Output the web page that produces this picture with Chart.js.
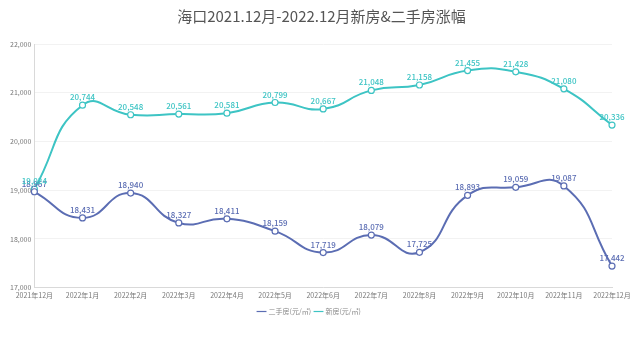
<!DOCTYPE html>
<html>
<head>
<meta charset="utf-8">
<script src="https://cdn.jsdelivr.net/npm/chart.js@4"></script>
<style>
  html, body { margin: 0; padding: 0; background: #ffffff; }
  #wrap { width: 641px; height: 341px; }
</style>
</head>
<body>
<div id="wrap"><canvas id="c" width="641" height="341"></canvas></div>
<script>
// Monthly average prices, Haikou, Dec 2021 – Dec 2022 (元/㎡)
const months = ['2021年12月','2022年1月','2022年2月','2022年3月','2022年4月','2022年5月','2022年6月','2022年7月','2022年8月','2022年9月','2022年10月','2022年11月','2022年12月'];
const secondHand = [18967, 18431, 18940, 18327, 18411, 18159, 17719, 18079, 17725, 18893, 19059, 19087, 17442];
const newHomes   = [19024, 20744, 20548, 20561, 20581, 20799, 20667, 21048, 21158, 21455, 21428, 21080, 20336];
const yTicks = [17000, 18000, 19000, 20000, 21000, 22000];
const titleText = '海口2021.12月-2022.12月新房&二手房涨幅';

const BLUE = '#5b6db3';
const TEAL = '#3dc4c4';
const FONT = '"Noto Sans CJK SC", "Noto Sans", sans-serif';

const fmt = v => v.toLocaleString('en-US');

// Writes each point's value just above its marker
const valueLabels = {
  id: 'valueLabels',
  afterDatasetsDraw(chart) {
    const ctx = chart.ctx;
    ctx.save();
    ctx.font = '500 8px ' + FONT;
    ctx.textAlign = 'center';
    ctx.textBaseline = 'bottom';
    chart.data.datasets.forEach((ds, i) => {
      const meta = chart.getDatasetMeta(i);
      ctx.fillStyle = ds.borderColor;
      meta.data.forEach((pt, j) => {
        ctx.fillText(fmt(ds.data[j]), pt.x, pt.y - 4);
      });
    });
    ctx.restore();
  }
};

// Heading centred across the full canvas width
const centredTitle = {
  id: 'centredTitle',
  afterDraw(chart) {
    const ctx = chart.ctx;
    ctx.save();
    ctx.font = '15px ' + FONT;
    ctx.fillStyle = '#555555';
    ctx.textAlign = 'center';
    ctx.textBaseline = 'middle';
    ctx.fillText(titleText, chart.width / 2 + 1, 16);
    ctx.restore();
  }
};

new Chart(document.getElementById('c'), {
  type: 'line',
  data: {
    labels: months,
    datasets: [
      {
        label: '二手房(元/㎡)',
        data: secondHand,
        borderColor: BLUE,
        backgroundColor: '#ffffff',
        borderWidth: 2,
        tension: 0.5,
        pointRadius: 3,
        pointBorderWidth: 1.2,
        pointBackgroundColor: '#ffffff',
        pointBorderColor: BLUE
      },
      {
        label: '新房(元/㎡)',
        data: newHomes,
        borderColor: TEAL,
        backgroundColor: '#ffffff',
        borderWidth: 2,
        tension: 0.5,
        pointRadius: 3,
        pointBorderWidth: 1.2,
        pointBackgroundColor: '#ffffff',
        pointBorderColor: TEAL
      }
    ]
  },
  options: {
    responsive: false,
    animation: false,
    layout: { padding: { left: 7, right: 29, top: 44, bottom: 16 } },
    plugins: {
      title: { display: false },
      legend: {
        position: 'bottom',
        labels: {
          color: '#888888',
          font: { family: FONT, size: 7 },
          usePointStyle: true,
          pointStyle: 'line',
          boxWidth: 8,
          boxHeight: 8,
          padding: 4
        }
      },
      tooltip: { enabled: false }
    },
    scales: {
      x: {
        grid: { display: false, drawTicks: false },
        border: { color: '#d9d9d9' },
        ticks: {
          color: '#777777',
          font: { family: FONT, size: 7 },
          maxRotation: 0,
          autoSkip: false,
          padding: 4
        }
      },
      y: {
        min: 17000,
        max: 22000,
        afterBuildTicks(axis) { axis.ticks = yTicks.map(v => ({ value: v })); },
        grid: { color: '#f2f2f2', drawTicks: false },
        border: { color: '#d9d9d9' },
        ticks: {
          color: '#777777',
          font: { family: FONT, size: 7 },
          padding: 3,
          callback: v => fmt(v)
        }
      }
    }
  },
  plugins: [valueLabels, centredTitle]
});
</script>
</body>
</html>
